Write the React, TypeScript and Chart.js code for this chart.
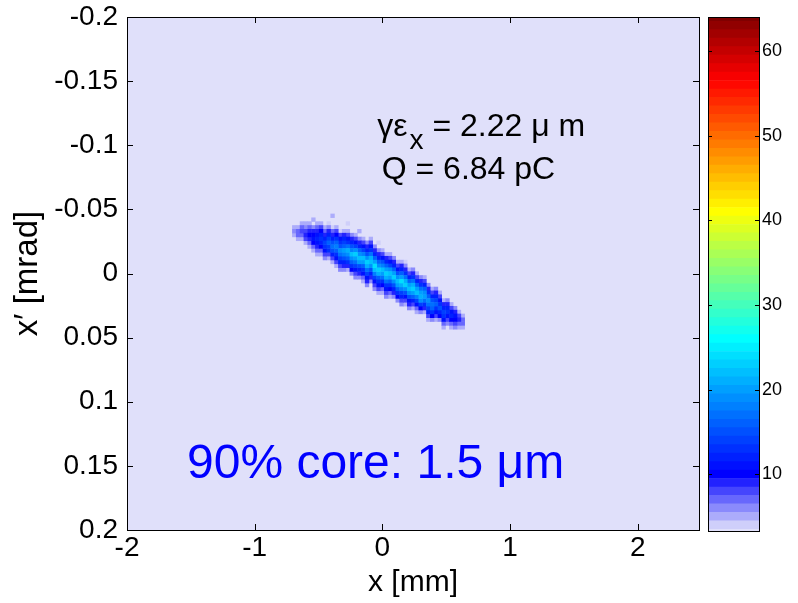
import React, { useEffect, useRef } from "react";
import { Chart, registerables } from "chart.js";

Chart.register(...registerables);

// ---- axes ----
const X_TICKS = [-2, -1, 0, 1, 2];
const X_TICK_LABELS = ["-2", "-1", "0", "1", "2"];
const Y_TICKS = [-0.2, -0.15, -0.1, -0.05, 0, 0.05, 0.1, 0.15, 0.2];
const Y_TICK_LABELS = ["-0.2", "-0.15", "-0.1", "-0.05", "0", "0.05", "0.1", "0.15", "0.2"];
const X_RANGE = [-2, 2.48];
const Y_RANGE = [-0.2, 0.2];
const X_TITLE = "x [mm]";
const Y_TITLE = "x\u2032 [mrad]";

// ---- colour bar ----
const CBAR_TICKS = [10, 20, 30, 40, 50, 60];
const CBAR_TICK_LABELS = ["10", "20", "30", "40", "50", "60"];
const CBAR_RANGE = [3.3, 64];

// ---- phase-space histogram (counts per bin) ----
// column i is centred at BIN_X0 + i*BIN_DX (mm); row r at r*BIN_DY (mrad)
// '.' = empty, '0'-'9' = 0..9, 'a'.. = 10..
const BIN_X0 = -0.69;
const BIN_DX = 0.03;
const BIN_DY = 0.003;
const COL_START_ROW = [
  -12, -12, -13, -13, -13, -14, -13, -13, -12, -13,
  -15, -12, -11, -11, -13, -10, -10, -11, -9, -8,
  -9, -7, -8, -6, -5, -5, -4, -3, -3, -3,
  -1, -1, 0, 1, 1, 3, 4, 4, 5, 7,
  7, 8, 9, 10, 11,
];
const COL_COUNTS = [
  "565", "5775", "57875", "568985", "579a975", "5.69aba75", "579bcb975", "58acdca75", "579cedb86", "469ceged85",
  "5..479cfhfc85", "58adgigdb85", "48bdfjhec86", "59cegkifc96", "4.58bdhljgd95", "69cfimjgda6", "58bejnkheb86", "5.69cgjmkfc96", "58beimkgdb75", "69cfjnlheb96",
  "58bdhlmjfc96", "69cgkomieb86", "4.69cgjnlgdb85", "58bfimkhda75", "59cgknlhdb86", "58bejmkgda75", "69cgknjfc96", "58bfjmkgda6", "59cgkoliec86", "469dhlnjfb85",
  "58cgkmjfb96", "69dhlnkgc85", "58cgkmieb75", "69dhkljea6", "58cgjkhd95", "69dgjhec85", "58cfhgda6", "69cegdb85", "58bdfca6", "59cedb75",
  "69cdb86", "58bca75", "69ba86", "58975", "5775",
];

// ---- annotations ----
const EMIT_MAIN = "\u03b3\u03b5";
const EMIT_SUB = "x";
const EMIT_REST = " = 2.22 \u03bc m";
const CHARGE_LABEL = "Q = 6.84 pC";
const CORE_LABEL = "90% core: 1.5 \u03bcm";

const FONT = '"Liberation Sans", Arial, Helvetica, sans-serif';
const BG = "rgb(224,224,250)";

function countOf(ch: string): number {
  if (ch === ".") return 0;
  const c = ch.charCodeAt(0);
  if (c >= 48 && c <= 57) return c - 48;
  return c - 97 + 10;
}

type Cell = { x: number; y: number; v: number };
const CELLS: Cell[] = [];
COL_COUNTS.forEach((s, i) => {
  for (let j = 0; j < s.length; j++) {
    const v = countOf(s[j]);
    if (v > 0) CELLS.push({ x: BIN_X0 + i * BIN_DX, y: (COL_START_ROW[i] + j) * BIN_DY, v });
  }
});
CELLS.sort((a, b) => a.v - b.v);

const CMAP_STOPS: [number, number[]][] = [
  [3.5, [224, 224, 250]],
  [10, [0, 0, 255]],
  [26, [0, 255, 255]],
  [41, [255, 255, 0]],
  [56.5, [255, 0, 0]],
  [64, [128, 0, 0]],
];
function cmap(v: number): string {
  const t = Math.min(Math.max(Math.round(v), CBAR_RANGE[0]), CBAR_RANGE[1]);
  if (t <= CMAP_STOPS[0][0]) {
    const c = CMAP_STOPS[0][1];
    return `rgb(${c[0]},${c[1]},${c[2]})`;
  }
  for (let i = 1; i < CMAP_STOPS.length; i++) {
    const [v1, c1] = CMAP_STOPS[i];
    const [v0, c0] = CMAP_STOPS[i - 1];
    if (t <= v1) {
      const f = (t - v0) / (v1 - v0);
      const c = c0.map((a, k) => Math.round(a + (c1[k] - a) * f));
      return `rgb(${c[0]},${c[1]},${c[2]})`;
    }
  }
  const c = CMAP_STOPS[CMAP_STOPS.length - 1][1];
  return `rgb(${c[0]},${c[1]},${c[2]})`;
}

const CBAR_LEVELS: number[] = [];
for (let k = Math.floor(CBAR_RANGE[0]); k <= CBAR_RANGE[1]; k++) CBAR_LEVELS.push(k);

const fontStr = (s: number) => `${s}px ${FONT}`;

const framePlugin = {
  id: "frame",
  beforeDatasetsDraw(chart: any) {
    const { ctx, chartArea: a } = chart;
    ctx.save();
    ctx.fillStyle = BG;
    ctx.fillRect(a.left, a.top, a.right - a.left, a.bottom - a.top);
    ctx.restore();
  },
  afterDraw(chart: any) {
    const { ctx, chartArea: a, scales } = chart;
    const x = scales.x;
    const y = scales.y;
    ctx.save();
    ctx.strokeStyle = "#000";
    ctx.lineWidth = 1;
    const TL = 6;
    ctx.beginPath();
    X_TICKS.forEach((v) => {
      const px = Math.round(x.getPixelForValue(v)) + 0.5;
      ctx.moveTo(px, a.bottom);
      ctx.lineTo(px, a.bottom - TL);
      ctx.moveTo(px, a.top);
      ctx.lineTo(px, a.top + TL);
    });
    Y_TICKS.forEach((v) => {
      const py = Math.round(y.getPixelForValue(v)) + 0.5;
      ctx.moveTo(a.left, py);
      ctx.lineTo(a.left + TL, py);
      ctx.moveTo(a.right, py);
      ctx.lineTo(a.right - TL, py);
    });
    ctx.stroke();
    ctx.strokeRect(Math.round(a.left) + 0.5, Math.round(a.top) + 0.5, Math.round(a.right - a.left), Math.round(a.bottom - a.top));

    // annotations
    ctx.textAlign = "left";
    ctx.textBaseline = "alphabetic";
    ctx.fillStyle = "#000";
    let px = x.getPixelForValue(-0.04);
    const py = y.getPixelForValue(-0.107);
    ctx.font = fontStr(32);
    ctx.fillText(EMIT_MAIN, px, py);
    px += ctx.measureText(EMIT_MAIN).width + 2;
    ctx.font = fontStr(28);
    ctx.fillText(EMIT_SUB, px, py + 13);
    px += ctx.measureText(EMIT_SUB).width;
    ctx.font = fontStr(32);
    ctx.fillText(EMIT_REST, px, py);

    ctx.fillText(CHARGE_LABEL, x.getPixelForValue(-0.005), y.getPixelForValue(-0.0733));

    ctx.fillStyle = "rgb(0,0,255)";
    ctx.font = fontStr(48);
    ctx.fillText(CORE_LABEL, x.getPixelForValue(-1.53), y.getPixelForValue(0.1595));
    ctx.restore();
  },
};

const cbarPlugin = {
  id: "cbarFrame",
  afterDraw(chart: any) {
    const { ctx, chartArea: a, scales } = chart;
    const y = scales.y;
    ctx.save();
    ctx.strokeStyle = "#000";
    ctx.lineWidth = 1;
    const TL = 4;
    ctx.beginPath();
    CBAR_TICKS.forEach((v) => {
      const py = Math.round(y.getPixelForValue(v)) + 0.5;
      ctx.moveTo(a.left, py);
      ctx.lineTo(a.left + TL, py);
      ctx.moveTo(a.right, py);
      ctx.lineTo(a.right - TL, py);
    });
    ctx.stroke();
    ctx.strokeRect(Math.round(a.left) + 0.5, Math.round(a.top) + 0.5, Math.round(a.right - a.left), Math.round(a.bottom - a.top));
    ctx.restore();
  },
};

export default function App() {
  const mainRef = useRef<HTMLCanvasElement | null>(null);
  const barRef = useRef<HTMLCanvasElement | null>(null);

  useEffect(() => {
    const tickFont = { family: FONT, size: 28 };
    const main = new Chart(mainRef.current as HTMLCanvasElement, {
      type: "scatter",
      data: {
        datasets: [
          {
            data: CELLS as any,
            pointStyle: "rect",
            borderWidth: 0,
            pointRadius: (c: any) => {
              const xs = c.chart.scales.x;
              const w = xs ? Math.abs(xs.getPixelForValue(BIN_DX) - xs.getPixelForValue(0)) : 3.8;
              return (w + 0.5) / (2 * Math.SQRT1_2);
            },
            backgroundColor: (c: any) => cmap(c.raw ? c.raw.v : 0),
          } as any,
        ],
      },
      options: {
        animation: false,
        responsive: false,
        events: [],
        layout: { padding: { left: 0, top: 17, right: 1, bottom: 0 } },
        plugins: { legend: { display: false }, tooltip: { enabled: false } },
        scales: {
          x: {
            type: "linear",
            min: X_RANGE[0],
            max: X_RANGE[1],
            afterBuildTicks: (s: any) => {
              s.ticks = X_TICKS.map((v) => ({ value: v }));
            },
            afterFit: (s: any) => {
              s.height = 73;
              s.paddingLeft = 0;
              s.paddingRight = 0;
            },
            ticks: {
              autoSkip: false,
              maxRotation: 0,
              padding: 1,
              color: "#000",
              font: tickFont,
              callback: (_v: any, i: number) => X_TICK_LABELS[i],
            },
            grid: { display: false, drawTicks: false },
            border: { display: false },
            title: {
              display: true,
              text: X_TITLE,
              color: "#000",
              font: { family: FONT, size: 30 },
              padding: { top: 0, bottom: 2 },
            },
          },
          y: {
            type: "linear",
            reverse: true,
            min: Y_RANGE[0],
            max: Y_RANGE[1],
            afterBuildTicks: (s: any) => {
              s.ticks = Y_TICKS.map((v) => ({ value: v }));
            },
            afterFit: (s: any) => {
              s.width = 127;
              s.paddingTop = 0;
              s.paddingBottom = 0;
            },
            ticks: {
              autoSkip: false,
              padding: 9,
              color: "#000",
              font: tickFont,
              callback: (_v: any, i: number) => Y_TICK_LABELS[i],
            },
            grid: { display: false, drawTicks: false },
            border: { display: false },
            title: {
              display: true,
              text: Y_TITLE,
              color: "#000",
              font: { family: FONT, size: 33 },
              padding: { top: 8, bottom: 0 },
            },
          },
        },
      } as any,
      plugins: [framePlugin],
    });

    const bar = new Chart(barRef.current as HTMLCanvasElement, {
      type: "bar",
      data: {
        labels: [""],
        datasets: CBAR_LEVELS.map((k) => ({
          data: [[Math.max(k - 0.5, CBAR_RANGE[0]), Math.min(k + 0.5, CBAR_RANGE[1])]] as any,
          backgroundColor: cmap(k),
          borderWidth: 0,
          barPercentage: 1,
          categoryPercentage: 1,
          grouped: false,
        })),
      },
      options: {
        animation: false,
        responsive: false,
        events: [],
        layout: { padding: { left: 8, top: 17, right: 0, bottom: 72 } },
        plugins: { legend: { display: false }, tooltip: { enabled: false } },
        scales: {
          x: { display: false },
          y: {
            position: "right",
            min: CBAR_RANGE[0],
            max: CBAR_RANGE[1],
            afterBuildTicks: (s: any) => {
              s.ticks = CBAR_TICKS.map((v) => ({ value: v }));
            },
            afterFit: (s: any) => {
              s.width = 39;
              s.paddingTop = 0;
              s.paddingBottom = 0;
            },
            ticks: {
              padding: 3,
              color: "#000",
              font: { family: FONT, size: 18 },
              callback: (_v: any, i: number) => CBAR_TICK_LABELS[i],
            },
            grid: { display: false, drawTicks: false },
            border: { display: false },
          },
        },
      } as any,
      plugins: [cbarPlugin],
    });

    return () => {
      main.destroy();
      bar.destroy();
    };
  }, []);

  return (
    <div style={{ position: "fixed", left: 0, top: 0, width: 798, height: 603, background: "#fff" }}>
      <canvas ref={mainRef} width={700} height={603} style={{ position: "absolute", left: 0, top: 0 }} />
      <canvas ref={barRef} width={98} height={603} style={{ position: "absolute", left: 700, top: 0 }} />
    </div>
  );
}
